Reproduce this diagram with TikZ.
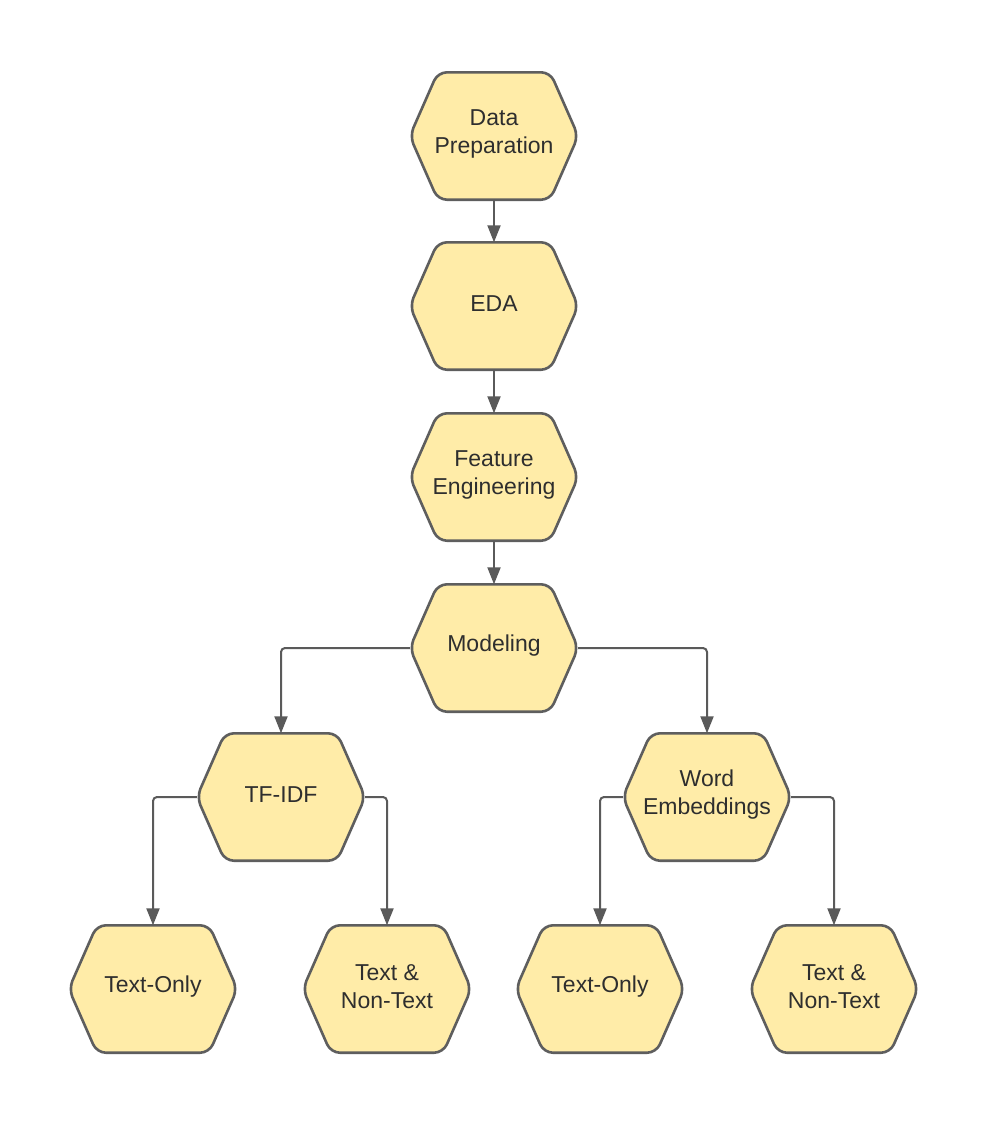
\documentclass[tikz,border=0pt]{standalone}
\usepackage{fontspec}
\setmainfont{Liberation Sans}
\usetikzlibrary{arrows.meta}
\definecolor{hexfill}{HTML}{FFECA8}
\definecolor{hexline}{HTML}{5E5E5E}
\definecolor{linkcol}{HTML}{5A5A5A}
\definecolor{labelcol}{HTML}{2E2E2E}
\tikzset{
  hexbox/.style={rectangle, minimum width=168pt, minimum height=127pt,
    inner sep=0pt, align=center, text=labelcol,
    font=\fontsize{23}{28}\selectfont},
  hexedge/.style={draw=hexline, fill=hexfill, line width=2.6pt,
    rounded corners=9pt, line join=round},
  link/.style={draw=linkcol, line width=2pt, rounded corners=4pt,
    -{Triangle[length=17pt,width=13pt]}}
}
% hexagon outline around a named box node
\newcommand{\hexoutline}[1]{%
  \path[hexedge] (#1.west) -- ([xshift=28pt]#1.north west)
    -- ([xshift=-28pt]#1.north east) -- (#1.east)
    -- ([xshift=-28pt]#1.south east) -- ([xshift=28pt]#1.south west)
    -- cycle;}
\newcommand{\hexat}[4]{%
  \node[hexbox] (#1) at (#2pt,-#3pt) {};
  \hexoutline{#1}
  \node[hexbox] at ([yshift=2pt]#1.center) {#4};}
\begin{document}
\begin{tikzpicture}
\useasboundingbox (0,0) rectangle (987pt,-1125pt);
\fill[white] (0,0) rectangle (987pt,-1125pt);

\hexat{prep}{494}{136}{Data\\Preparation}
\hexat{eda}{494}{306}{EDA}
\hexat{feat}{494}{477}{Feature\\Engineering}
\hexat{model}{494}{648}{Modeling}
\hexat{tfidf}{281}{797}{TF-IDF}
\hexat{emb}{707}{797}{Word\\Embeddings}
\hexat{tfA}{153}{989}{Text-Only}
\hexat{tfB}{387}{989}{Text \&\\Non-Text}
\hexat{emA}{600}{989}{Text-Only}
\hexat{emB}{834}{989}{Text \&\\Non-Text}

\draw[link] (prep.south) -- (eda.north);
\draw[link] (eda.south) -- (feat.north);
\draw[link] (feat.south) -- (model.north);
\draw[link] (model.west) -| (tfidf.north);
\draw[link] (model.east) -| (emb.north);
\draw[link] (tfidf.west) -| (tfA.north);
\draw[link] (tfidf.east) -| (tfB.north);
\draw[link] (emb.west) -| (emA.north);
\draw[link] (emb.east) -| (emB.north);
\end{tikzpicture}
\end{document}
